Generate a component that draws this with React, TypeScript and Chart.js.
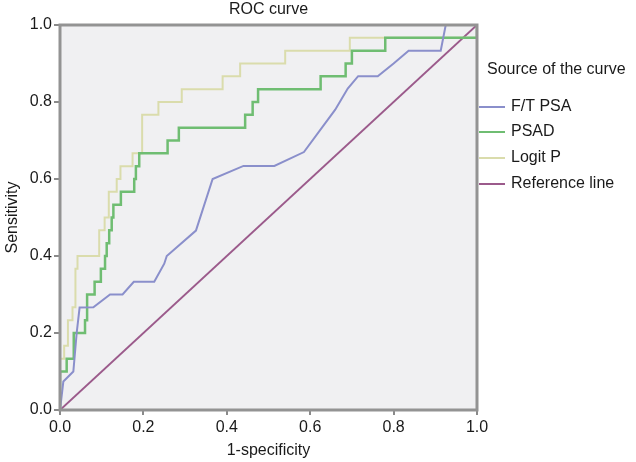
import React, { useEffect, useRef } from "react";
import { Chart, registerables } from "chart.js";

Chart.register(...registerables);

// ---- data ----
const seriesLabels = ["F/T PSA", "PSAD", "Logit P", "Reference line"];
const seriesColors = ["#8a8fcb", "#6fbd72", "#dadcac", "#9b5a8b"];

const ftX = [0, 0.008, 0.032, 0.04, 0.047, 0.08, 0.12, 0.15, 0.177, 0.226, 0.25, 0.256, 0.326, 0.366, 0.44, 0.514, 0.585, 0.66, 0.69, 0.715, 0.762, 0.8, 0.836, 0.913, 0.925, 1];
const ftY = [0, 0.074, 0.1, 0.2, 0.266, 0.267, 0.3, 0.3, 0.333, 0.333, 0.38, 0.4, 0.466, 0.6, 0.634, 0.634, 0.67, 0.78, 0.835, 0.867, 0.867, 0.9, 0.933, 0.933, 1, 1];

const psadX = [0, 0, 0.016, 0.033, 0.06, 0.065, 0.083, 0.098, 0.108, 0.112, 0.118, 0.124, 0.128, 0.146, 0.178, 0.182, 0.19, 0.258, 0.285, 0.444, 0.462, 0.475, 0.625, 0.685, 0.7, 0.78, 1];
const psadY = [0, 0.1, 0.133, 0.2, 0.233, 0.3, 0.333, 0.367, 0.4, 0.433, 0.467, 0.5, 0.533, 0.567, 0.6, 0.633, 0.667, 0.7, 0.733, 0.767, 0.8, 0.833, 0.867, 0.9, 0.933, 0.967, 1];

const logitX = [0, 0, 0.01, 0.019, 0.03, 0.037, 0.042, 0.094, 0.107, 0.117, 0.136, 0.145, 0.174, 0.197, 0.236, 0.292, 0.39, 0.432, 0.54, 0.695, 1];
const logitY = [0, 0.133, 0.167, 0.233, 0.267, 0.367, 0.4, 0.467, 0.5, 0.567, 0.6, 0.633, 0.667, 0.767, 0.8, 0.833, 0.867, 0.9, 0.933, 0.967, 1];

const refX = [0, 1];
const refY = [0, 1];

const tickValues = [0, 0.2, 0.4, 0.6, 0.8, 1.0];

const chartTitle = "ROC curve";
const xTitle = "1-specificity";
const yTitle = "Sensitivity";
const legendTitle = "Source of the curve";

const FONT = "'Liberation Sans', Arial, sans-serif";
const TEXT = "#1a1a1a";

const zip = (xs: number[], ys: number[]) => xs.map((x, i) => ({ x, y: ys[i] }));

const decorPlugin = {
  id: "decor",
  beforeDatasetsDraw(chart: any) {
    const { ctx, chartArea: a } = chart;
    ctx.save();
    ctx.fillStyle = "#f0f0f2";
    ctx.fillRect(a.left, a.top, a.right - a.left, a.bottom - a.top);
    ctx.restore();
  },
  afterDraw(chart: any) {
    const { ctx, chartArea: a } = chart;
    ctx.save();
    // frame
    ctx.strokeStyle = "#939393";
    ctx.lineWidth = 3;
    ctx.strokeRect(a.left, a.top, a.right - a.left, a.bottom - a.top);

    ctx.fillStyle = TEXT;
    ctx.font = `16px ${FONT}`;
    ctx.textBaseline = "middle";
    ctx.textAlign = "center";
    const cx = (a.left + a.right) / 2;
    ctx.fillText(chartTitle, cx, 10);
    ctx.fillText(xTitle, cx, 451);

    ctx.save();
    ctx.translate(13, (a.top + a.bottom) / 2);
    ctx.rotate(-Math.PI / 2);
    ctx.fillText(yTitle, 0, 0);
    ctx.restore();

    // legend
    ctx.textAlign = "left";
    ctx.fillText(legendTitle, 487, 70);
    const ys = [107, 132, 158, 184];
    chart.data.datasets.forEach((ds: any, i: number) => {
      ctx.strokeStyle = ds.borderColor;
      ctx.lineWidth = 2;
      ctx.beginPath();
      ctx.moveTo(479, ys[i]);
      ctx.lineTo(505, ys[i]);
      ctx.stroke();
      ctx.fillStyle = TEXT;
      ctx.fillText(ds.label, 511, ys[i]);
    });
    ctx.restore();
  },
};

export default function App() {
  const ref = useRef<HTMLCanvasElement>(null);

  useEffect(() => {
    if (!ref.current) return;
    const chart = new Chart(ref.current, {
      type: "line",
      data: {
        datasets: [
          { label: seriesLabels[0], data: zip(ftX, ftY), borderColor: seriesColors[0], order: 0 },
          { label: seriesLabels[1], data: zip(psadX, psadY), borderColor: seriesColors[1], stepped: true, order: 1, borderWidth: 2.5 },
          { label: seriesLabels[2], data: zip(logitX, logitY), borderColor: seriesColors[2], stepped: true, order: 2 },
          { label: seriesLabels[3], data: zip(refX, refY), borderColor: seriesColors[3], order: 3 },
        ] as any,
      },
      options: {
        animation: false,
        responsive: false,
        elements: {
          point: { radius: 0, hoverRadius: 0 },
          line: { borderWidth: 2, tension: 0, fill: false },
        },
        layout: { padding: { left: 0, top: 25, right: 159, bottom: 0 } },
        plugins: { legend: { display: false }, title: { display: false }, tooltip: { enabled: false } },
        scales: {
          x: {
            type: "linear",
            min: 0,
            max: 1,
            afterFit: (s: any) => { s.height = 52; },
            afterBuildTicks: (s: any) => { s.ticks = tickValues.map((v) => ({ value: v })); },
            border: { display: false },
            grid: { display: true, drawOnChartArea: false, drawTicks: true, tickLength: 5, color: "#8a8a8a", lineWidth: 2 },
            ticks: { padding: 3, color: TEXT, font: { family: FONT, size: 16 }, maxRotation: 0, callback: (v: any) => Number(v).toFixed(1) },
          },
          y: {
            type: "linear",
            min: 0,
            max: 1,
            afterFit: (s: any) => { s.width = 60; },
            afterBuildTicks: (s: any) => { s.ticks = tickValues.map((v) => ({ value: v })); },
            border: { display: false },
            grid: { display: true, drawOnChartArea: false, drawTicks: true, tickLength: 6, color: "#8a8a8a", lineWidth: 2 },
            ticks: { padding: 2, color: TEXT, font: { family: FONT, size: 16 }, callback: (v: any) => Number(v).toFixed(1) },
          },
        },
      },
      plugins: [decorPlugin],
    });
    return () => chart.destroy();
  }, []);

  return (
    <div style={{ position: "absolute", left: 0, top: 0, width: 636, height: 462, background: "#ffffff" }}>
      <canvas ref={ref} width={636} height={462} style={{ display: "block" }} />
    </div>
  );
}
